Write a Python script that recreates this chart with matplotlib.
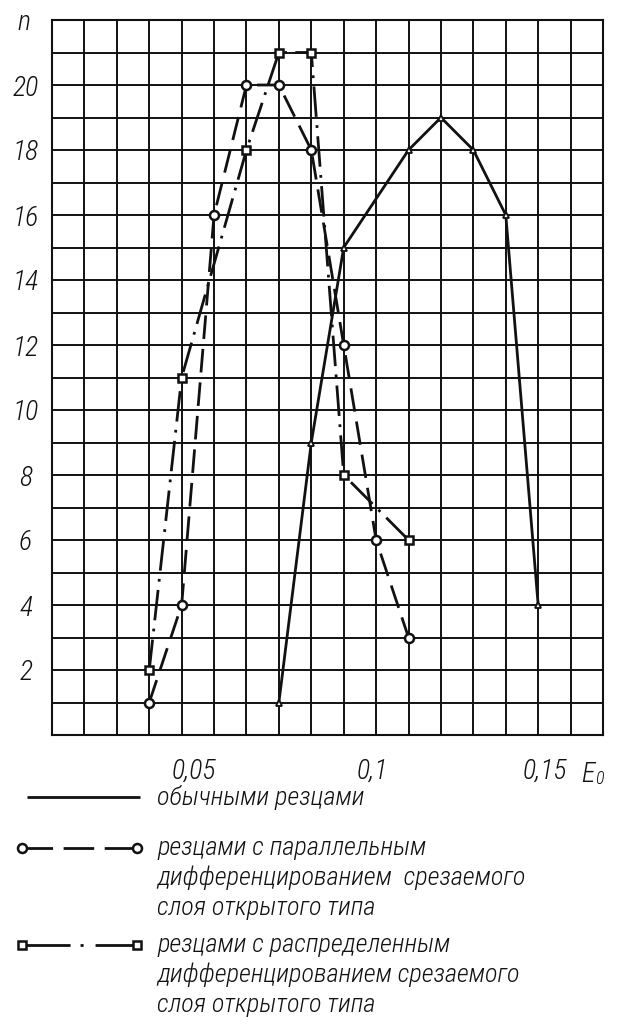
import matplotlib
matplotlib.use('Agg')
import matplotlib.pyplot as plt
import matplotlib.transforms as mtransforms
from matplotlib import font_manager

# ---------------- data ----------------
plain_x = [0.07, 0.08, 0.09, 0.11, 0.12, 0.13, 0.14, 0.15]
plain_n = [1, 9, 15, 18, 19, 18, 16, 4]

parallel_x = [0.03, 0.04, 0.05, 0.06, 0.07, 0.08, 0.09, 0.10, 0.11]
parallel_n = [1, 4, 16, 20, 20, 18, 12, 6, 3]

distributed_x = [0.03, 0.04, 0.06, 0.07, 0.08, 0.09, 0.11]
distributed_n = [2, 11, 18, 21, 21, 8, 6]

xtick_values = [0.05, 0.1, 0.15]
xtick_labels = ['0,05', '0,1', '0,15']
ytick_values = [2, 4, 6, 8, 10, 12, 14, 16, 18, 20]
ytick_labels = ['2', '4', '6', '8', '10', '12', '14', '16', '18', '20']
grid_x = [i / 100 for i in range(18)]
grid_y = list(range(23))

y_axis_label = 'n'
x_axis_label = 'E'
x_axis_sub = '0'

legend_plain = ['обычными резцами']
legend_parallel = ['резцами с параллельным',
                   'дифференцированием  срезаемого',
                   'слоя открытого типа']
legend_distributed = ['резцами с распределенным',
                      'дифференцированием срезаемого',
                      'слоя открытого типа']

# ---------------- fonts ----------------
available = {f.name for f in font_manager.fontManager.ttflist}
main_font = 'DejaVu Sans'
for cand in ['Liberation Sans Narrow', 'Roboto Condensed', 'Liberation Sans', 'Roboto']:
    if cand in available:
        main_font = cand
        break
plt.rcParams['font.family'] = [main_font, 'DejaVu Sans']
plt.rcParams['font.style'] = 'italic'
plt.rcParams['font.weight'] = 'light'
INK = '#111111'

W, H = 617, 1025
fig = plt.figure(figsize=(W / 100, H / 100), dpi=100)
fig.patch.set_facecolor('white')

left, right, top, bottom = 52, 603, 20, 735
ax = fig.add_axes([left / W, 1 - bottom / H, (right - left) / W, (bottom - top) / H])
ax.set_xlim(0, 0.17)
ax.set_ylim(0, 22)

TICK_FS = 20
ax.set_xticks(grid_x, minor=True)
ax.set_yticks(grid_y, minor=True)
ax.set_xticks(xtick_values)
ax.set_xticklabels(xtick_labels, fontsize=TICK_FS, color=INK)
ax.set_yticks(ytick_values)
ax.set_yticklabels(ytick_labels, fontsize=TICK_FS, color=INK)
ax.tick_params(which='both', length=0)
ax.tick_params(axis='x', pad=16)
ax.tick_params(axis='y', pad=19)
for lab in ax.get_yticklabels():
    lab.set_horizontalalignment('center')
ax.grid(True, which='both', color=INK, linewidth=1.4)
ax.set_axisbelow(True)
for sp in ax.spines.values():
    sp.set_color(INK)
    sp.set_linewidth(1.5)

# shift x tick labels like the hand-placed originals (pixels)
xlabel_shift = [-20, -4, 7]
for lab, dx in zip(ax.get_xticklabels(), xlabel_shift):
    lab.set_transform(lab.get_transform() + mtransforms.ScaledTranslation(dx / 100, 0, fig.dpi_scale_trans))

LW = 2.0
ax.plot(plain_x, plain_n, color=INK, lw=LW, marker='^', ms=4.5,
        mfc='white', mec=INK, mew=1.3, zorder=3)
ax.plot(parallel_x, parallel_n, color=INK, lw=LW, dashes=(8.5, 3.6),
        marker='o', ms=6.5, mfc='white', mec=INK, mew=1.8, zorder=4)
ax.plot(distributed_x, distributed_n, color=INK, lw=LW, dashes=(11, 3, 1, 3),
        marker='s', ms=6, mfc='white', mec=INK, mew=1.8, zorder=5)

# axis name labels
fig.text(24 / W, 1 - 22 / H, y_axis_label, fontsize=TICK_FS, color=INK, ha='center', va='center')
fig.text(588 / W, 1 - 774 / H, x_axis_label, fontsize=TICK_FS, color=INK, ha='center', va='center')
fig.text(599 / W, 1 - 779 / H, x_axis_sub, fontsize=13, color=INK, ha='center', va='center')

# ---------------- legend (drawn in pixel space) ----------------
lax = fig.add_axes([0, 0, 1, 1], zorder=-1)
lax.set_xlim(0, W)
lax.set_ylim(H, 0)
lax.axis('off')

lax.plot([27, 140], [797, 797], color=INK, lw=2.0, solid_capstyle='butt')
lax.plot([22, 137], [848, 848], color=INK, lw=2.0, dashes=(11, 3.8),
         marker='o', ms=6.5, mfc='white', mec=INK, mew=1.8, markevery=[0, 1])
lax.plot([22, 137], [945, 945], color=INK, lw=2.0, dashes=(17.3, 3.6, 1.1, 4.3),
         marker='s', ms=6, mfc='white', mec=INK, mew=1.8, markevery=[0, 1])

TX = 157
FS = 19
for i, line in enumerate(legend_plain):
    lax.text(TX, 797 + 30 * i, line, fontsize=FS, color=INK, va='center', ha='left')
for i, line in enumerate(legend_parallel):
    lax.text(TX, 848 + 30 * i, line, fontsize=FS, color=INK, va='center', ha='left')
for i, line in enumerate(legend_distributed):
    lax.text(TX, 945 + 30 * i, line, fontsize=FS, color=INK, va='center', ha='left')

fig.savefig('out.png', dpi=100, facecolor='white')
